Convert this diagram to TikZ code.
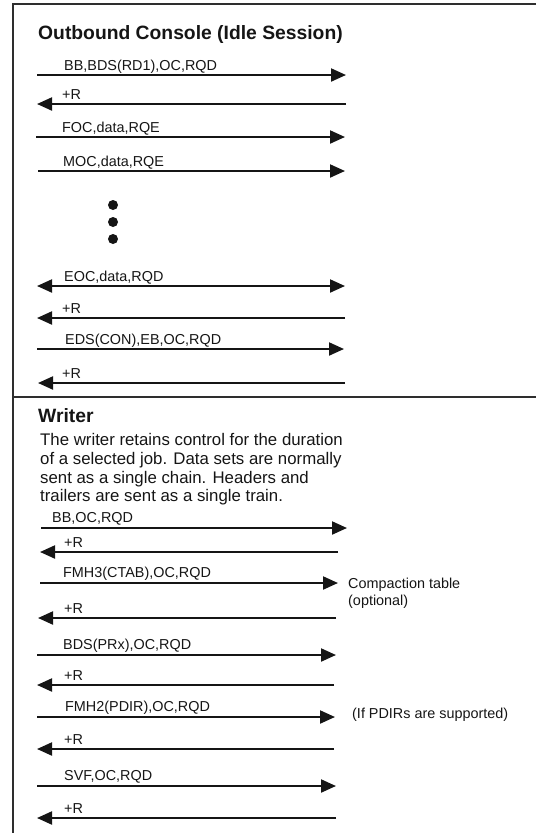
\documentclass[tikz,border=0pt]{standalone}
\usepackage{fontspec}
\setmainfont{Liberation Sans}
\usetikzlibrary{arrows.meta}
\definecolor{ink}{HTML}{151515}
\definecolor{framegray}{HTML}{2E2E2E}
\begin{document}
\begin{tikzpicture}[x=1pt,y=-1pt,
  tip/.tip={Triangle[length=15pt,width=13pt]},
  msg/.style={line width=2.1pt, draw=ink, -tip},
  msgboth/.style={line width=2.1pt, draw=ink, tip-tip},
  framel/.style={line width=2.5pt, draw=framegray},
  lab/.style={anchor=base west, inner sep=0pt, text=ink, font=\fontsize{14.4}{16}\selectfont},
  head/.style={anchor=base west, inner sep=0pt, text=ink, font=\fontsize{19.3}{22}\selectfont\bfseries},
  para/.style={anchor=base west, inner sep=0pt, text=ink, font=\fontsize{16.8}{18}\selectfont},
  dot/.style={circle, fill=ink, inner sep=0pt, minimum size=10pt}]
\useasboundingbox (0,0) rectangle (536,833);
% frame
\coordinate (ftl) at (13,4);
\coordinate (ftr) at (536,4);
\coordinate (fbl) at (13,833);
\coordinate (fdl) at (13,397);
\coordinate (fdr) at (536,397);
\draw[framel] (ftr) -- (ftl) -- (fbl);
\draw[framel] (fdl) -- (fdr);
% ---------- Outbound Console ----------
\node[head] (t1) at (38,39) {Outbound Console (Idle Session)};
\coordinate (m1w) at (37,75);  \coordinate (m1e) at (346,75);
\coordinate (m2w) at (37,104); \coordinate (m2e) at (346,104);
\coordinate (m3w) at (36,137); \coordinate (m3e) at (345,137);
\coordinate (m4w) at (38,171); \coordinate (m4e) at (345,171);
\coordinate (m5w) at (37,286); \coordinate (m5e) at (345,286);
\coordinate (m6w) at (37,318); \coordinate (m6e) at (345,318);
\coordinate (m7w) at (37,349); \coordinate (m7e) at (344,349);
\coordinate (m8w) at (38,383); \coordinate (m8e) at (345,383);
\draw[msg] (m1w) -- (m1e);
\draw[msg] (m2e) -- (m2w);
\draw[msg] (m3w) -- (m3e);
\draw[msg] (m4w) -- (m4e);
\draw[msgboth] (m5w) -- (m5e);
\draw[msg] (m6e) -- (m6w);
\draw[msg] (m7w) -- (m7e);
\draw[msg] (m8e) -- (m8w);
\node[lab] (l1) at (64,70) {BB,BDS(RD1),OC,RQD};
\node[lab] (l2) at (62,99) {+R};
\node[lab] (l3) at (62,132) {FOC,data,RQE};
\node[lab] (l4) at (63,166) {MOC,data,RQE};
\node[lab] (l5) at (64,281) {EOC,data,RQD};
\node[lab] (l6) at (62,313) {+R};
\node[lab] (l7) at (65,344) {EDS(CON),EB,OC,RQD};
\node[lab] (l8) at (62,378) {+R};
\node[dot] (d1) at (113,205) {};
\node[dot] (d2) at (113,222) {};
\node[dot] (d3) at (113,239) {};
% ---------- Writer ----------
\node[head] (t2) at (38,422) {Writer};
\node[para] (p1) at (40,445) {The writer retains control for the duration};
\node[para] (p2) at (40,464) {of a selected job. Data sets are normally};
\node[para] (p3) at (40,483) {sent as a single chain. Headers and};
\node[para] (p4) at (40,501) {trailers are sent as a single train.};
\coordinate (n1w) at (41,528); \coordinate (n1e) at (347,528);
\coordinate (n2w) at (40,552); \coordinate (n2e) at (338,552);
\coordinate (n3w) at (40,583); \coordinate (n3e) at (338,583);
\coordinate (n4w) at (38,618); \coordinate (n4e) at (336,618);
\coordinate (n5w) at (37,655); \coordinate (n5e) at (336,655);
\coordinate (n6w) at (37,685); \coordinate (n6e) at (334,685);
\coordinate (n7w) at (37,717); \coordinate (n7e) at (335,717);
\coordinate (n8w) at (37,749); \coordinate (n8e) at (334,749);
\coordinate (n9w) at (37,786); \coordinate (n9e) at (336,786);
\coordinate (n10w) at (37,818); \coordinate (n10e) at (336,818);
\draw[msg] (n1w) -- (n1e);
\draw[msg] (n2e) -- (n2w);
\draw[msg] (n3w) -- (n3e);
\draw[msg] (n4e) -- (n4w);
\draw[msg] (n5w) -- (n5e);
\draw[msg] (n6e) -- (n6w);
\draw[msg] (n7w) -- (n7e);
\draw[msg] (n8e) -- (n8w);
\draw[msg] (n9w) -- (n9e);
\draw[msg] (n10e) -- (n10w);
\node[lab] (k1) at (52,522) {BB,OC,RQD};
\node[lab] (k2) at (64,547) {+R};
\node[lab] (k3) at (63,577) {FMH3(CTAB),OC,RQD};
\node[lab] (k4) at (64,613) {+R};
\node[lab] (k5) at (63,649) {BDS(PRx),OC,RQD};
\node[lab] (k6) at (64,680) {+R};
\node[lab] (k7) at (65,711) {FMH2(PDIR),OC,RQD};
\node[lab] (k8) at (64,744) {+R};
\node[lab] (k9) at (64,780) {SVF,OC,RQD};
\node[lab] (k10) at (64,813) {+R};
\node[lab] (c1) at (348,588) {Compaction table};
\node[lab] (c2) at (348,605) {(optional)};
\node[lab] (c3) at (352,718) {(If PDIRs are supported)};
\end{tikzpicture}
\end{document}
